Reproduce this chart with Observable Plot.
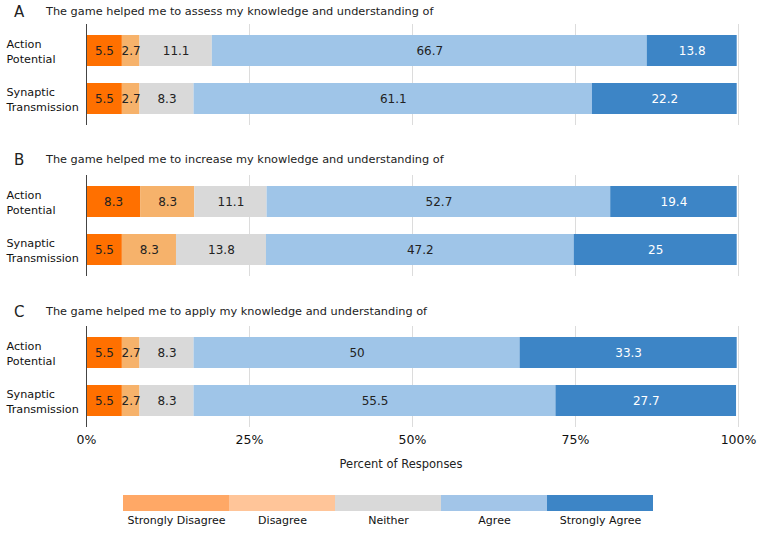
<!DOCTYPE html>
<html>
<head>
<meta charset="utf-8">
<script src="https://cdn.jsdelivr.net/npm/d3@7"></script>
<script src="https://cdn.jsdelivr.net/npm/@observablehq/plot@0.6"></script>
<style>
  html, body { margin: 0; padding: 0; background: #fff; }
  body { font-family: "DejaVu Sans", Verdana, sans-serif; color: #222; }
  #root { position: relative; width: 759px; height: 534px; overflow: hidden; }
  .abs { position: absolute; }
  .letter { font-size: 15px; line-height: 20px; left: 14px; }
  .title { font-size: 11.3px; line-height: 20px; left: 46px; white-space: nowrap; }
  .xlabel { font-size: 11.5px; line-height: 16px; width: 200px; text-align: center; }
  svg { display: block; }
</style>
</head>
<body>
<div id="root"></div>
<script>
// ---- data ----
const categories = ["Strongly Disagree", "Disagree", "Neither", "Agree", "Strongly Agree"];
const items = ["Action Potential", "Synaptic Transmission"];
const itemLabels = ["Action\nPotential", "Synaptic\nTransmission"];
const panelLetters = ["A", "B", "C"];
const panelTitles = [
  "The game helped me to assess my knowledge and understanding of",
  "The game helped me to increase my knowledge and understanding of",
  "The game helped me to apply my knowledge and understanding of"
];
const valuesA_AP = [5.5, 2.7, 11.1, 66.7, 13.8];
const valuesA_ST = [5.5, 2.7, 8.3, 61.1, 22.2];
const valuesB_AP = [8.3, 8.3, 11.1, 52.7, 19.4];
const valuesB_ST = [5.5, 8.3, 13.8, 47.2, 25];
const valuesC_AP = [5.5, 2.7, 8.3, 50, 33.3];
const valuesC_ST = [5.5, 2.7, 8.3, 55.5, 27.7];
const panelValues = [[valuesA_AP, valuesA_ST], [valuesB_AP, valuesB_ST], [valuesC_AP, valuesC_ST]];
const xTicks = [0, 25, 50, 75, 100];
const xTickLabels = ["0%", "25%", "50%", "75%", "100%"];
const xLabel = "Percent of Responses";
const barColors = ["#ff7000", "#f6b26b", "#d9d9d9", "#9fc5e8", "#3d85c6"];
const legendColors = ["#ffa866", "#ffc599", "#d9d9d9", "#a2c5e8", "#3d85c6"];

// ---- layout ----
const W = 759;
const ML = 86, MR = 21;
const panelTop = [24, 175, 326];
const titleCenter = [12, 160, 312];
const panelH = 101;
const root = document.getElementById("root");

function place(el, left, top) {
  el.style.position = "absolute";
  el.style.left = left + "px";
  el.style.top = top + "px";
  root.appendChild(el);
}

panelLetters.forEach((letter, p) => {
  const l = document.createElement("div");
  l.className = "abs letter";
  l.textContent = letter;
  l.style.top = (titleCenter[p] - 10) + "px";
  root.appendChild(l);
  const t = document.createElement("div");
  t.className = "abs title";
  t.textContent = panelTitles[p];
  t.style.top = (titleCenter[p] - 10) + "px";
  root.appendChild(t);

  const rows = [];
  items.forEach((item, i) => {
    categories.forEach((c, k) => rows.push({item, category: c, value: panelValues[p][i][k]}));
  });
  const last = p === panelLetters.length - 1;
  const stackOpts = (text) => Plot.stackX({x: "value", y: "item", z: "category", order: categories, text});
  const marks = [
    Plot.gridX(xTicks.slice(1), {stroke: "#dcdcdc", strokeOpacity: 1}),
    Plot.barX(rows, Plot.stackX({x: "value", y: "item", fill: "category", order: categories})),
    Plot.text(rows, {...stackOpts(d => d.category === "Strongly Agree" ? "" : String(d.value)), fill: "#222", fontSize: 12}),
    Plot.text(rows, {...stackOpts(d => d.category === "Strongly Agree" ? String(d.value) : ""), fill: "#fff", fontSize: 12}),
    Plot.ruleX([0], {stroke: "#444"}),
    Plot.text(items, {y: d => d, text: (d, i) => itemLabels[i], frameAnchor: "left", textAnchor: "start", dx: -80, fontSize: 11.2, lineHeight: 1.36, fill: "#111"})
  ];
  if (last) {
    marks.push(Plot.axisX(xTicks, {tickSize: 0, tickPadding: 8, fontSize: 12.5, tickFormat: (d) => xTickLabels[xTicks.indexOf(d)], label: null, fill: "#111"}));
  } else {
    marks.push(Plot.axisX({ticks: [], label: null}));
  }
  const chart = Plot.plot({
    width: W,
    height: panelH + (last ? 26 : 0),
    marginLeft: ML,
    marginRight: MR,
    marginTop: 0,
    marginBottom: last ? 26 : 0,
    style: {fontFamily: "DejaVu Sans, Verdana, sans-serif", fontSize: "12px", background: "transparent"},
    x: {domain: [0, 100], label: null},
    y: {domain: items, paddingInner: 0.344, paddingOuter: 0.224, align: 0.53, label: null, axis: null},
    color: {domain: categories, range: barColors},
    marks
  });
  place(chart, 0, panelTop[p]);
});

// x axis title
const xl = document.createElement("div");
xl.className = "abs xlabel";
xl.textContent = xLabel;
xl.style.left = (401 - 100) + "px";
xl.style.top = (464 - 8) + "px";
root.appendChild(xl);

// legend
const legend = Plot.plot({
  width: W,
  height: 16 + 22,
  marginLeft: 123,
  marginRight: W - 653,
  marginTop: 0,
  marginBottom: 22,
  style: {fontFamily: "DejaVu Sans, Verdana, sans-serif", fontSize: "11px", background: "transparent"},
  x: {domain: categories, padding: 0, label: null},
  color: {domain: categories, range: legendColors},
  marks: [
    Plot.cell(categories, {x: d => d, fill: d => d}),
    Plot.axisX({tickSize: 0, tickPadding: 5, fontSize: 11, label: null, fill: "#111"})
  ]
});
place(legend, 0, 495);
</script>
</body>
</html>
